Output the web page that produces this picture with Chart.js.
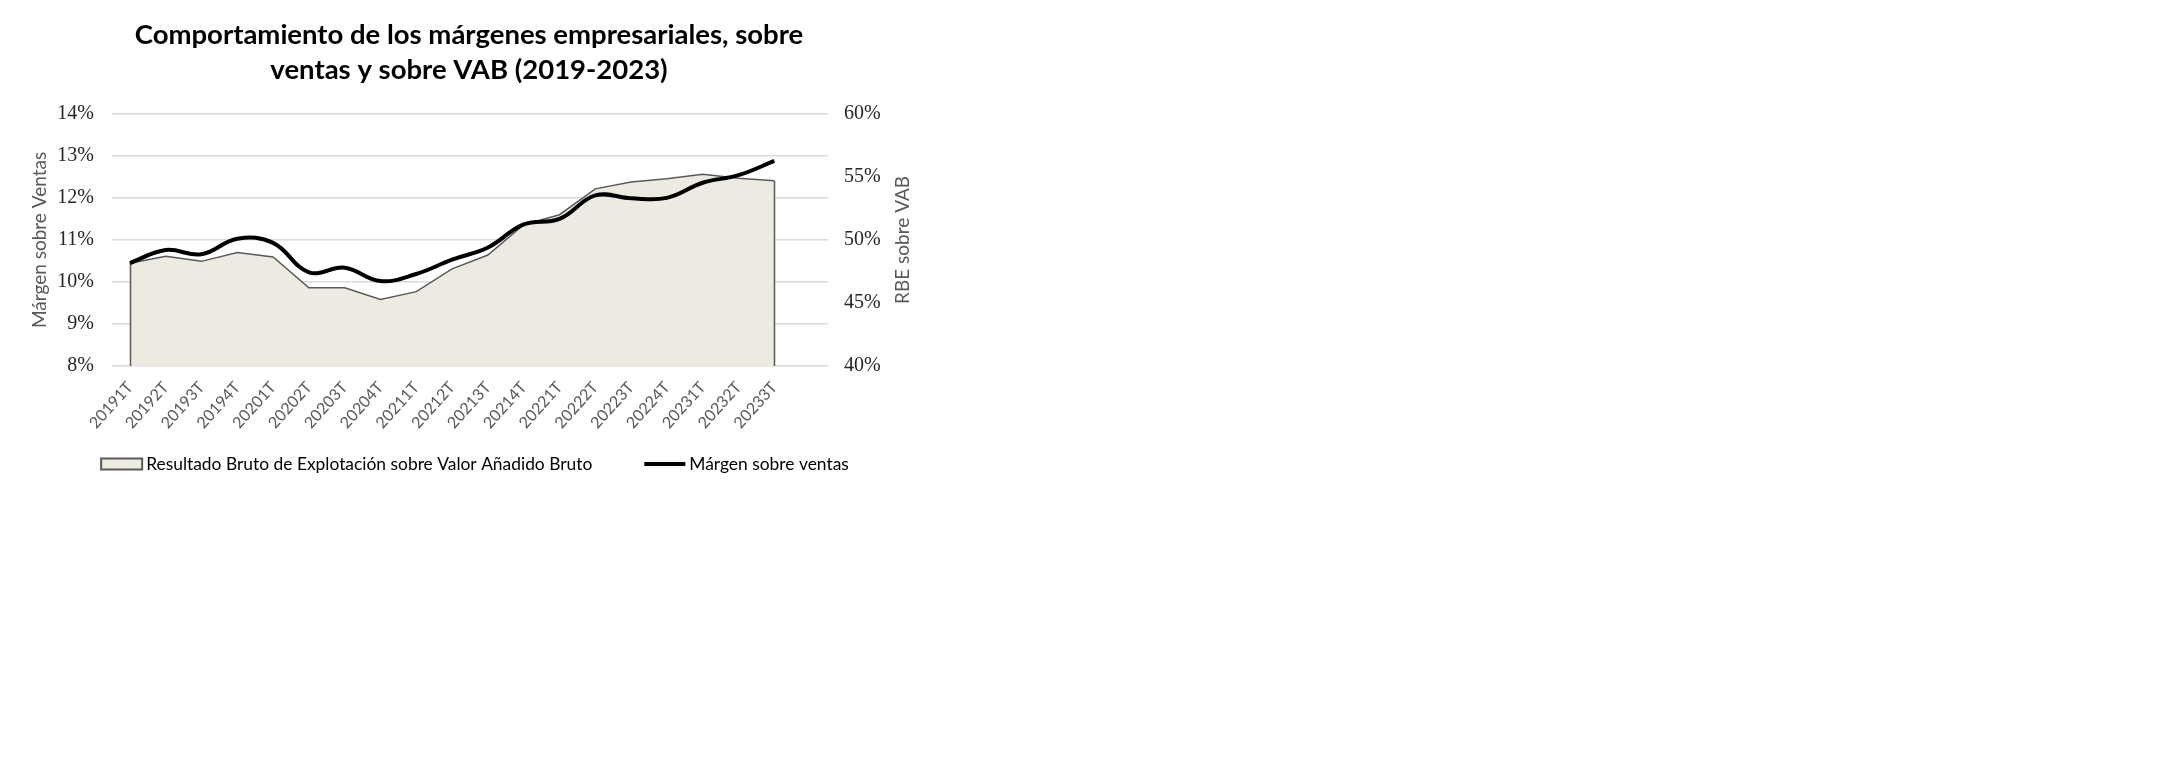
<!DOCTYPE html>
<html>
<head>
<meta charset="utf-8">
<script src="https://cdn.jsdelivr.net/npm/chart.js@4.4.1/dist/chart.umd.min.js"></script>
<style>
    body { margin: 0; background: #ffffff; }
    #wrap { position: absolute; left: 0; top: 0; width: 938px; height: 490px; }
</style>
</head>
<body>
<div id="wrap"><canvas id="chart"></canvas></div>
<script>
// Quarters (last slot is empty, like the original sheet)
const quarters = ['20191T', '20192T', '20193T', '20194T', '20201T', '20202T', '20203T', '20204T',
    '20211T', '20212T', '20213T', '20214T', '20221T', '20222T', '20223T', '20224T',
    '20231T', '20232T', '20233T', ''];

// Márgen sobre ventas (%), left axis
const margenVentas = [10.45, 10.76, 10.66, 11.03, 10.93, 10.23, 10.34, 10.02, 10.19, 10.53,
    10.82, 11.37, 11.5, 12.06, 11.99, 12.0, 12.36, 12.54, 12.88];

// RBE sobre VAB (%), right axis
const rbeVab = [48.15, 48.7, 48.3, 49.0, 48.65, 46.2, 46.2, 45.28, 45.9, 47.7,
    48.8, 51.2, 52.0, 54.05, 54.6, 54.85, 55.2, 54.9, 54.7];

const titleLines = ['Comportamiento de los márgenes empresariales, sobre', 'ventas y sobre VAB (2019-2023)'];
const leftTitle = 'Márgen sobre Ventas';
const rightTitle = 'RBE sobre VAB';

const sansFont = 'Lato, "Noto Sans", sans-serif';
const serifFont = '"Liberation Serif", serif';

// draws the dark left/right edges of the area down to the axis
const areaEdges = {
    id: 'areaEdges',
    afterDatasetDraw(chart, args) {
        if (args.index !== 1) return;
        const pts = args.meta.data.filter(p => !p.skip);
        if (!pts.length) return;
        const bottom = chart.chartArea.bottom;
        const ctx = chart.ctx;
        ctx.save();
        ctx.strokeStyle = '#595959';
        ctx.lineWidth = 1.5;
        ctx.beginPath();
        [pts[0], pts[pts.length - 1]].forEach(p => {
            ctx.moveTo(Math.round(p.x) + 0.5, p.y);
            ctx.lineTo(Math.round(p.x) + 0.5, bottom);
        });
        ctx.stroke();
        ctx.restore();
    }
};

// right axis title reads bottom-to-top, like the left one
const rightAxisTitle = {
    id: 'rightAxisTitle',
    afterDraw(chart) {
        const s = chart.scales.y1;
        const ctx = chart.ctx;
        ctx.save();
        ctx.translate(s.right - 35, (chart.chartArea.top + chart.chartArea.bottom) / 2);
        ctx.rotate(-Math.PI / 2);
        ctx.fillStyle = '#595959';
        ctx.font = '19px ' + sansFont;
        ctx.textAlign = 'center';
        ctx.textBaseline = 'middle';
        ctx.fillText(rightTitle, 0, 0);
        ctx.restore();
    }
};

// legend drawn by hand: area swatch first, then the thick line, wide gap between them
const bottomLegend = {
    id: 'bottomLegend',
    afterDraw(chart) {
        const ctx = chart.ctx;
        const area = chart.data.datasets[1];
        const line = chart.data.datasets[0];
        const sw = 41, gapText = 4, gapItems = 52;
        ctx.save();
        ctx.font = '17.4px ' + sansFont;
        const w1 = ctx.measureText(area.label).width;
        const w2 = ctx.measureText(line.label).width;
        const total = sw + gapText + w1 + gapItems + sw + gapText + w2;
        let x = (chart.width - total) / 2 + 6;
        const y = chart.height - 26;

        ctx.fillStyle = area.backgroundColor;
        ctx.strokeStyle = area.borderColor;
        ctx.lineWidth = 2;
        ctx.fillRect(x, y - 5.5, sw, 11);
        ctx.strokeRect(x, y - 5.5, sw, 11);
        x += sw + gapText;
        ctx.fillStyle = '#000000';
        ctx.textAlign = 'left';
        ctx.textBaseline = 'middle';
        ctx.fillText(area.label, x, y);
        x += w1 + gapItems;

        ctx.strokeStyle = line.borderColor;
        ctx.lineWidth = line.borderWidth;
        ctx.beginPath();
        ctx.moveTo(x, y);
        ctx.lineTo(x + sw, y);
        ctx.stroke();
        x += sw + gapText;
        ctx.fillText(line.label, x, y);
        ctx.restore();
    }
};

new Chart(document.getElementById('chart'), {
    type: 'line',
    data: {
        labels: quarters,
        datasets: [{
            label: 'Márgen sobre ventas',
            data: margenVentas,
            yAxisID: 'y',
            borderColor: '#000000',
            backgroundColor: '#000000',
            borderWidth: 4,
            tension: 0.4,
            pointRadius: 0,
            fill: false,
            order: 1
        }, {
            label: 'Resultado Bruto de Explotación sobre Valor Añadido Bruto',
            data: rbeVab,
            yAxisID: 'y1',
            borderColor: '#595959',
            backgroundColor: '#edebe1',
            borderWidth: 1.5,
            tension: 0,
            pointRadius: 0,
            fill: 'start',
            order: 2
        }]
    },
    options: {
        responsive: true,
        maintainAspectRatio: false,
        animation: false,
        layout: { padding: { top: 18, left: 0, right: 0, bottom: 44 } },
        plugins: {
            tooltip: { enabled: false },
            legend: { display: false },
            title: {
                display: true,
                text: titleLines,
                color: '#000000',
                font: { family: sansFont, size: 27.5, weight: 'bold', lineHeight: 1.27 },
                padding: { top: 0, bottom: 26 }
            }
        },
        scales: {
            x: {
                offset: true,
                grid: { display: false },
                border: { display: false },
                ticks: {
                    autoSkip: false,
                    minRotation: 48,
                    maxRotation: 48,
                    color: '#595959',
                    font: { family: sansFont, size: 16 },
                    padding: 4
                },
                afterFit(scale) { scale.height = 80; }
            },
            y: {
                position: 'left',
                min: 8,
                max: 14,
                ticks: {
                    stepSize: 1,
                    color: '#262626',
                    font: { family: serifFont, size: 20 },
                    padding: 18,
                    callback: v => v + '%'
                },
                grid: { color: '#d9d9d9', lineWidth: 1.5, drawTicks: false },
                border: { display: false },
                title: {
                    display: true,
                    text: leftTitle,
                    color: '#595959',
                    font: { family: sansFont, size: 19 },
                    padding: { top: 28, bottom: 0 }
                },
                afterFit(scale) { scale.width = 112; }
            },
            y1: {
                position: 'right',
                min: 40,
                max: 60,
                ticks: {
                    stepSize: 5,
                    color: '#262626',
                    font: { family: serifFont, size: 20 },
                    padding: 16,
                    callback: v => v + '%'
                },
                grid: { display: false, drawTicks: false },
                border: { display: false },
                afterFit(scale) { scale.width = 110; }
            }
        }
    },
    plugins: [areaEdges, rightAxisTitle, bottomLegend]
});
</script>
</body>
</html>
